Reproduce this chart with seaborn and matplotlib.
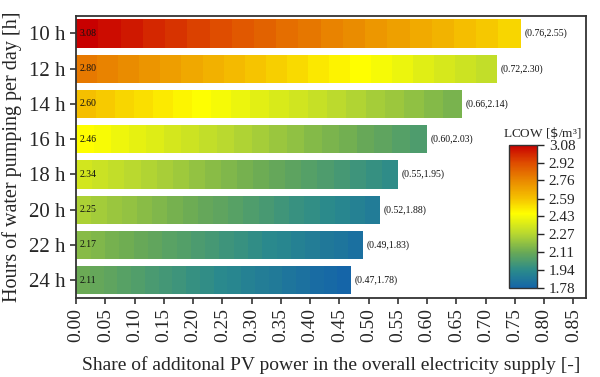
import numpy as np
import pandas as pd
import matplotlib
matplotlib.use('Agg')
import matplotlib.pyplot as plt
import matplotlib as mpl
import seaborn as sns
from matplotlib.colors import LinearSegmentedColormap, Normalize

hours = ['10 h', '12 h', '14 h', '16 h', '18 h', '20 h', '22 h', '24 h']
lcow_start = [3.08, 2.80, 2.60, 2.46, 2.34, 2.25, 2.17, 2.11]
pv_share_end = [0.76, 0.72, 0.66, 0.60, 0.55, 0.52, 0.49, 0.47]
lcow_end = [2.55, 2.30, 2.14, 2.03, 1.95, 1.88, 1.83, 1.78]
cbar_ticks = [1.78, 1.94, 2.11, 2.27, 2.43, 2.59, 2.76, 2.92, 3.08]
x_ticks = [0.00, 0.05, 0.10, 0.15, 0.20, 0.25, 0.30, 0.35, 0.40,
           0.45, 0.50, 0.55, 0.60, 0.65, 0.70, 0.75, 0.80, 0.85]
n_cells = 20

sns.set_style('ticks')
mpl.rcParams['font.family'] = ['Liberation Serif', 'DejaVu Serif']
mpl.rcParams['axes.linewidth'] = 1.3
mpl.rcParams['axes.edgecolor'] = '#333333'

cmap = LinearSegmentedColormap.from_list('lcow', [
    (0.00, '#1565a8'), (0.12, '#2a8a8c'), (0.25, '#6aaa55'),
    (0.38, '#b8d830'), (0.52, '#ffff00'), (0.63, '#f5c000'),
    (0.75, '#ea8a00'), (0.88, '#de4a00'), (1.00, '#c80000')], N=256)
norm = Normalize(vmin=1.78, vmax=3.08)

fig = plt.figure(figsize=(6, 3.77), dpi=100)
ax = fig.add_axes([0.127, 0.21, 0.85, 0.748])

# stacked cells: draw longest first, shorter ones on top
for k in range(n_cells - 1, -1, -1):
    rows = []
    colors = {}
    for h, s, L, e in zip(hours, lcow_start, pv_share_end, lcow_end):
        frac = k / (n_cells - 1)
        val = s + (e - s) * frac
        rows.append({'hours': h, 'share': L * (k + 1) / n_cells})
        colors[h] = cmap(norm(val))
    df = pd.DataFrame(rows)
    sns.barplot(data=df, x='share', y='hours', hue='hours', palette=colors,
                orient='h', width=0.8, linewidth=0, dodge=False, saturation=1,
                legend=False, ax=ax, order=hours)

for i, (s, L, e) in enumerate(zip(lcow_start, pv_share_end, lcow_end)):
    ax.text(0.006, i, f'{s:.2f}', fontsize=7, va='center', ha='left', color='#111111')
    ax.text(L + 0.006, i, f'({L:.2f},{e:.2f})', fontsize=7, va='center', ha='left',
            color='#111111')

ax.set_xlim(0, 0.872)
ax.set_ylim(7.5, -0.5)
ax.set_xticks(x_ticks)
ax.set_xticklabels([f'{t:.2f}' for t in x_ticks], rotation=90, fontsize=14)
ax.set_yticks(range(len(hours)))
ax.set_yticklabels(hours, fontsize=15)
ax.tick_params(axis='both', direction='out', length=4, width=1.2, color='#333333')
ax.set_xlabel('Share of additonal PV power in the overall electricity supply [-]',
              fontsize=14, labelpad=10)
ax.set_ylabel('Hours of water pumping per day [h]', fontsize=14.5, labelpad=5)
for sp in ax.spines.values():
    sp.set_visible(True)

cax = fig.add_axes([509 / 600, 1 - 288 / 377, 28 / 600, 143 / 377])
sm = mpl.cm.ScalarMappable(norm=norm, cmap=cmap)
cb = fig.colorbar(sm, cax=cax, ticks=cbar_ticks)
cb.ax.set_yticklabels([f'{t:.2f}' for t in cbar_ticks], fontsize=11)
cb.ax.tick_params(length=5, width=1, direction='out')
cb.outline.set_linewidth(1)
cax.set_title('LCOW [$\\$$/m³]', fontsize=9.5, pad=6, x=1.2)

fig.savefig('out.png', dpi=100)
